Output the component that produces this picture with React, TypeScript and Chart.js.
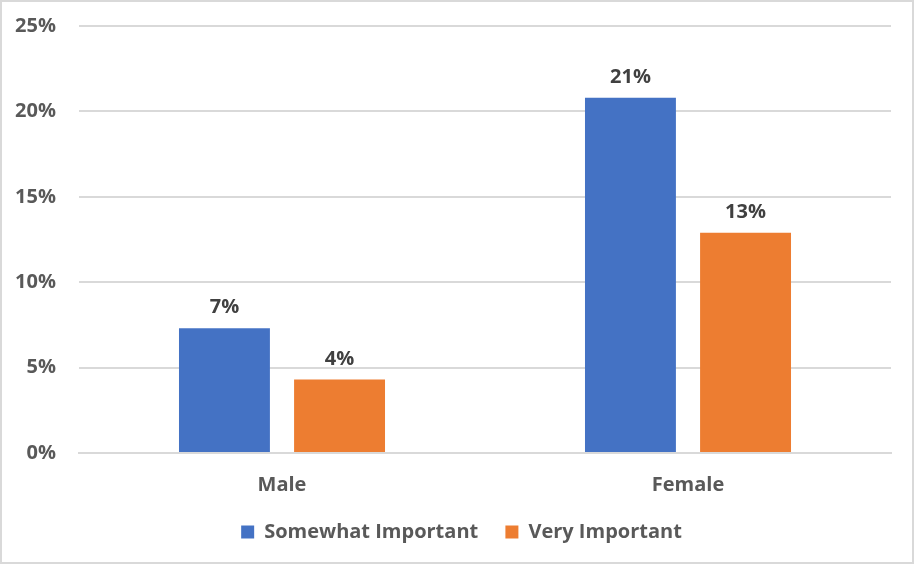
import { useEffect, useRef } from 'react';
import { Chart, registerables, Plugin } from 'chart.js';

Chart.register(...registerables);

const categories = ['Male', 'Female'];
const somewhatImportant = [7.3, 20.8];
const veryImportant = [4.3, 12.9];
const seriesNames = ['Somewhat Important', 'Very Important'];

const FONT = '"Open Sans", "Noto Sans", sans-serif';

// value labels above bars
const barLabels: Plugin<'bar'> = {
  id: 'barLabels',
  afterDatasetsDraw(chart) {
    const ctx = chart.ctx;
    ctx.save();
    ctx.font = `bold 20px ${FONT}`;
    ctx.fillStyle = '#404040';
    ctx.textAlign = 'center';
    ctx.textBaseline = 'alphabetic';
    chart.data.datasets.forEach((ds, i) => {
      chart.getDatasetMeta(i).data.forEach((bar, j) => {
        const v = ds.data[j] as number;
        ctx.fillText(`${Math.round(v)}%`, bar.x, bar.y - 15);
      });
    });
    ctx.restore();
  },
};

// white background + light frame round the whole chart
const frame: Plugin<'bar'> = {
  id: 'frame',
  beforeDraw(chart) {
    const { ctx, width, height } = chart;
    ctx.save();
    ctx.fillStyle = '#fff';
    ctx.fillRect(0, 0, width, height);
    ctx.strokeStyle = '#d9d9d9';
    ctx.lineWidth = 2;
    ctx.strokeRect(1, 1, width - 2, height - 2);
    ctx.restore();
  },
};

// legend is centred on the whole canvas in the original, not left of the right padding
const legendShift: Plugin<'bar'> = {
  id: 'legendShift',
  afterLayout(chart) {
    const lg = chart.legend;
    if (!lg) return;
    lg.left += 16;
    lg.right += 16;
  },
};

export default function App() {
  const canvasRef = useRef<HTMLCanvasElement>(null);
  const chartRef = useRef<Chart | null>(null);

  useEffect(() => {
    if (!canvasRef.current) return;
    if (chartRef.current) chartRef.current.destroy();

    chartRef.current = new Chart(canvasRef.current, {
      type: 'bar',
      data: {
        labels: categories,
        datasets: [
          { label: seriesNames[0], data: somewhatImportant, backgroundColor: '#4472C4' },
          { label: seriesNames[1], data: veryImportant, backgroundColor: '#ED7D31' },
        ],
      },
      options: {
        animation: false,
        responsive: true,
        maintainAspectRatio: false,
        datasets: { bar: { categoryPercentage: 0.567, barPercentage: 0.79 } },
        layout: { padding: { top: 26, right: 23, left: 0, bottom: 12 } },
        plugins: {
          legend: {
            position: 'bottom',
            maxHeight: 56,
            labels: {
              boxWidth: 13,
              boxHeight: 13,
              padding: 22,
              color: '#595959',
              font: { family: FONT, size: 20, weight: 'bold' },
              // a little extra room between the two entries
              generateLabels: (chart) =>
                Chart.defaults.plugins.legend.labels.generateLabels(chart).map((item, i, all) =>
                  i < all.length - 1 ? { ...item, text: item.text + ' ' } : item),
            },
          },
          tooltip: { enabled: false },
        },
        scales: {
          x: {
            afterFit: (scale) => { scale.height = 47; },
            grid: { display: false, drawTicks: false },
            border: { color: '#d9d9d9', width: 2 },
            ticks: { color: '#595959', padding: 20, font: { family: FONT, size: 20, weight: 'bold' } },
          },
          y: {
            min: 0,
            max: 25,
            afterFit: (scale) => {
              scale.width = 79;
              scale.paddingTop = 0;
              scale.paddingBottom = 0;
            },
            grid: { color: '#d9d9d9', lineWidth: 2, drawTicks: false },
            border: { display: false },
            ticks: {
              stepSize: 5,
              padding: 23,
              color: '#595959',
              font: { family: FONT, size: 20, weight: 'bold' },
              callback: (v) => `${v}%`,
            },
          },
        },
      },
      plugins: [frame, barLabels, legendShift],
    });

    return () => chartRef.current?.destroy();
  }, []);

  return (
    <div style={{ width: 914, height: 564, position: 'relative' }}>
      <style>{'body{margin:0}'}</style>
      <canvas ref={canvasRef} />
    </div>
  );
}
